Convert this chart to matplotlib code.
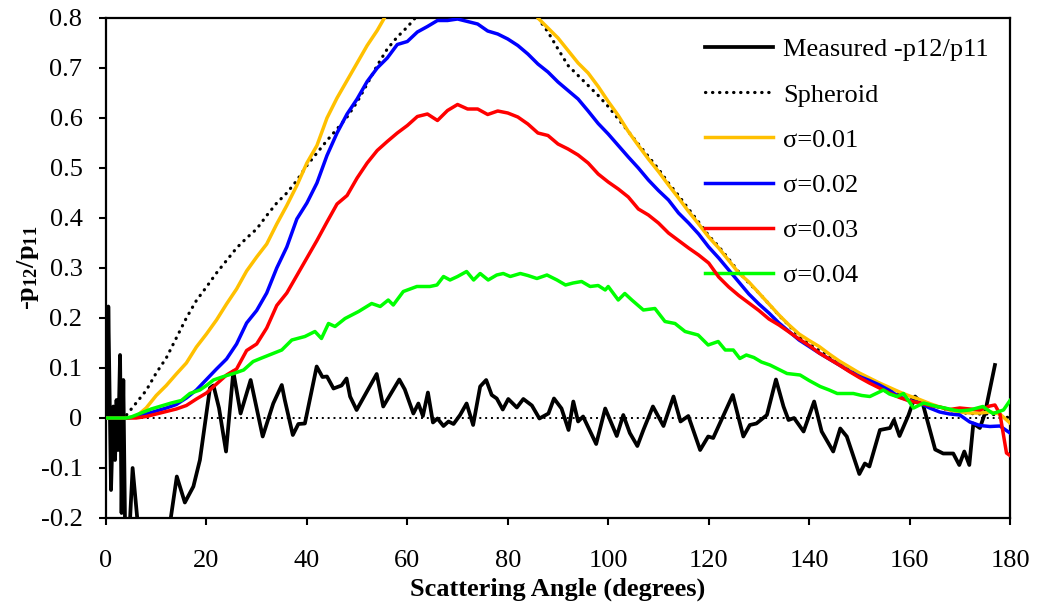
import matplotlib
matplotlib.use("Agg")
import matplotlib.pyplot as plt
from matplotlib.ticker import FixedLocator, FuncFormatter

plt.rcParams['font.family'] = ['Liberation Serif', 'DejaVu Serif']
plt.rcParams['mathtext.default'] = 'regular'
plt.rcParams['axes.unicode_minus'] = False

# ---- measured -p12/p11 ----
meas_ang = [0.3, 0.46, 1.0, 1.46, 1.8, 2.1, 2.4, 2.8, 3.1, 3.45, 3.8, 4.5, 5.3, 6.4, 8.0, 10.0,
            12.0, 12.9, 14.1, 15.7, 17.4, 18.7, 20.7, 21.4, 22.5, 23.9, 25.35, 26.8, 28.8, 31.2,
            33.3, 35.0, 35.6, 37.2, 38.3, 39.6, 41.95, 43.1, 44.0, 45.3, 46.9, 47.9, 48.6, 49.9,
            53.9, 55.2, 58.4, 59.5, 61.2, 62.2, 63.1, 64.1, 65.1, 66.0, 67.2, 68.2, 69.2, 70.5,
            71.8, 73.1, 74.5, 75.7, 76.8, 77.8, 79.0, 80.1, 81.8, 83.1, 84.8, 86.3, 88.1, 89.2,
            90.7, 92.1, 93.05, 94.0, 95.0, 97.6, 99.4, 101.7, 103.0, 104.3, 105.8, 107.0, 108.9,
            111.0, 113.0, 114.4, 115.95, 118.3, 119.9, 120.9, 124.8, 126.9, 128.2, 129.5, 131.6,
            133.4, 134.9, 135.9, 137.0, 138.9, 141.0, 142.5, 144.8, 146.2, 147.5, 150.0, 151.1,
            152.0, 154.1, 156.1, 156.9, 158.0, 159.8, 161.1, 162.7, 165.1, 166.7, 168.7, 169.9,
            170.9, 171.9, 172.7, 174.0, 175.0, 177.0]
meas_val = [0.0, 0.223, -0.144, 0.023, -0.084, 0.036, -0.064, 0.126, -0.19, 0.076, -0.22, -0.26,
            -0.10, -0.22, -0.30, -0.32, -0.26, -0.2, -0.117, -0.169, -0.137, -0.084, 0.06, 0.065,
            0.02, -0.067, 0.093, 0.009, 0.076, -0.037, 0.029, 0.066, 0.036, -0.034, -0.012,
            -0.011, 0.103, 0.082, 0.083, 0.059, 0.065, 0.079, 0.043, 0.016, 0.088, 0.023, 0.077,
            0.057, 0.009, 0.029, 0.004, 0.051, -0.009, -0.001, -0.016, -0.007, -0.012, 0.006,
            0.029, -0.014, 0.063, 0.076, 0.046, 0.039, 0.017, 0.038, 0.021, 0.038, 0.025, -0.001,
            0.009, 0.039, 0.019, -0.024, 0.033, -0.007, 0.003, -0.052, 0.019, -0.036, 0.006,
            -0.030, -0.056, -0.024, 0.023, -0.016, 0.043, -0.007, 0.004, -0.064, -0.037, -0.04,
            0.046, -0.037, -0.014, -0.011, 0.006, 0.077, 0.023, -0.004, 0.0, -0.027, 0.033,
            -0.027, -0.067, -0.021, -0.037, -0.112, -0.091, -0.097, -0.024, -0.02, -0.004,
            -0.036, 0.006, 0.043, 0.026, -0.063, -0.071, -0.071, -0.094, -0.067, -0.094, -0.011,
            -0.02, 0.009, 0.106]

# ---- spheroid model ----
sph_ang = [0, 4, 6, 8, 10, 12, 14, 16, 18, 20, 22, 24, 26, 28, 30, 32, 34, 36, 38, 40, 42, 44,
           46, 48, 50, 52, 54, 56, 58, 60, 62, 64, 68, 72, 76, 80, 84, 86, 88, 90, 92, 94, 96,
           98, 100, 102, 104, 106, 108, 110, 112, 114, 116, 118, 120, 122, 124, 126, 128, 130,
           132, 134, 136, 138, 140, 142, 144, 146, 148, 150, 152, 154, 156, 158, 160, 162, 164,
           166, 168, 170, 172, 174, 176, 178, 180]
sph_val = [0.0, 0.005, 0.03, 0.055, 0.09, 0.12, 0.16, 0.2, 0.235, 0.262, 0.29, 0.315, 0.34,
           0.36, 0.378, 0.405, 0.43, 0.45, 0.475, 0.505, 0.53, 0.555, 0.578, 0.602, 0.632,
           0.668, 0.705, 0.738, 0.762, 0.782, 0.805, 0.83, 0.88, 0.91, 0.91, 0.89, 0.845, 0.80,
           0.772, 0.738, 0.705, 0.685, 0.665, 0.645, 0.623, 0.598, 0.573, 0.548, 0.523, 0.498,
           0.47, 0.445, 0.418, 0.392, 0.365, 0.343, 0.318, 0.292, 0.27, 0.25, 0.228, 0.205,
           0.185, 0.163, 0.148, 0.135, 0.122, 0.11, 0.098, 0.087, 0.077, 0.066, 0.058, 0.05,
           0.042, 0.035, 0.028, 0.021, 0.015, 0.011, 0.009, 0.008, 0.008, 0.005, 0.0]

# ---- sigma = 0.01 ----
s1_ang = [0, 4, 6, 8, 10, 12, 14, 16, 18, 20, 22, 24, 26, 28, 30, 32, 34, 36, 38, 40, 42, 44,
          46, 48, 50, 52, 54, 56, 60, 64, 68, 72, 76, 80, 84, 86, 88, 90, 92, 94, 96, 98, 100,
          102, 104, 106, 108, 110, 112, 114, 116, 118, 120, 122, 124, 126, 128, 130, 132, 134,
          136, 138, 140, 142, 144, 146, 148, 150, 152, 154, 156, 158, 160, 162, 164, 166, 168,
          170, 172, 174, 176, 178, 180]
s1_val = [0.0, 0.0, 0.003, 0.02, 0.045, 0.065, 0.088, 0.11, 0.142, 0.168, 0.196, 0.228, 0.258,
          0.294, 0.322, 0.348, 0.388, 0.425, 0.465, 0.51, 0.545, 0.6, 0.64, 0.675, 0.71, 0.745,
          0.775, 0.81, 0.87, 0.91, 0.935, 0.94, 0.93, 0.9, 0.85, 0.80, 0.78, 0.76, 0.735, 0.71,
          0.69, 0.663, 0.633, 0.605, 0.573, 0.545, 0.518, 0.493, 0.466, 0.44, 0.413, 0.388,
          0.362, 0.34, 0.315, 0.29, 0.272, 0.25, 0.228, 0.206, 0.186, 0.168, 0.155, 0.143,
          0.128, 0.114, 0.102, 0.09, 0.08, 0.07, 0.061, 0.052, 0.044, 0.037, 0.029, 0.022,
          0.016, 0.012, 0.01, 0.01, 0.012, 0.008, -0.01]

# ---- sigma = 0.02 ----
s2_ang = [0, 4, 6, 8, 10, 12, 14, 16, 18, 20, 22, 24, 26, 28, 30, 32, 34, 36, 38, 40, 42, 44,
          46, 48, 50, 52, 54, 56, 58, 60, 62, 64, 66, 68, 70, 72, 74, 76, 78, 80, 82, 84, 86,
          88, 90, 92, 94, 96, 98, 100, 102, 104, 106, 108, 110, 112, 114, 116, 118, 120, 122,
          124, 126, 128, 130, 132, 134, 136, 138, 140, 142, 144, 146, 148, 150, 152, 154, 156,
          158, 160, 162, 164, 166, 168, 170, 172, 174, 176, 178, 180]
s2_val = [0.0, 0.0, 0.002, 0.008, 0.014, 0.02, 0.027, 0.04, 0.056, 0.077, 0.098, 0.118, 0.148,
          0.19, 0.215, 0.25, 0.3, 0.342, 0.398, 0.43, 0.47, 0.525, 0.57, 0.608, 0.638, 0.673,
          0.7, 0.72, 0.747, 0.753, 0.772, 0.783, 0.795, 0.795, 0.798, 0.793, 0.788, 0.774,
          0.768, 0.758, 0.745, 0.728, 0.708, 0.692, 0.672, 0.655, 0.638, 0.614, 0.589, 0.568,
          0.545, 0.522, 0.5, 0.476, 0.455, 0.436, 0.41, 0.39, 0.368, 0.342, 0.32, 0.296, 0.272,
          0.248, 0.228, 0.21, 0.19, 0.173, 0.156, 0.143, 0.13, 0.118, 0.106, 0.094, 0.083,
          0.075, 0.066, 0.055, 0.042, 0.035, 0.03, 0.02, 0.012, 0.008, 0.006, -0.008, -0.015,
          -0.017, -0.016, -0.03]

# ---- sigma = 0.03 ----
s3_ang = [0, 4, 6, 8, 10, 12, 14, 16, 18, 20, 22, 24, 26, 28, 30, 32, 34, 36, 38, 40, 42, 44,
          46, 48, 50, 52, 54, 56, 58, 60, 62, 64, 66, 68, 70, 72, 74, 76, 78, 80, 82, 84, 86,
          88, 90, 92, 94, 96, 98, 100, 102, 104, 106, 108, 110, 112, 114, 116, 118, 120, 122,
          124, 126, 128, 130, 132, 134, 136, 138, 140, 142, 144, 146, 148, 150, 152, 154, 156,
          158, 160, 162, 164, 166, 168, 170, 172, 174, 176, 177, 178, 179.3, 180]
s3_val = [0.0, 0.0, 0.0, 0.003, 0.008, 0.013, 0.018, 0.025, 0.038, 0.05, 0.068, 0.086, 0.098,
          0.135, 0.148, 0.18, 0.225, 0.25, 0.285, 0.32, 0.355, 0.392, 0.428, 0.445, 0.48, 0.51,
          0.535, 0.553, 0.57, 0.585, 0.603, 0.608, 0.595, 0.615, 0.627, 0.618, 0.618, 0.607,
          0.614, 0.61, 0.602, 0.588, 0.57, 0.565, 0.548, 0.538, 0.526, 0.51, 0.488, 0.472,
          0.458, 0.442, 0.418, 0.406, 0.39, 0.37, 0.355, 0.34, 0.326, 0.31, 0.282, 0.262,
          0.245, 0.23, 0.215, 0.198, 0.186, 0.172, 0.158, 0.145, 0.13, 0.118, 0.106, 0.093,
          0.081, 0.07, 0.06, 0.05, 0.041, 0.034, 0.03, 0.025, 0.022, 0.017, 0.02, 0.018, 0.016,
          0.024, 0.026, 0.008, -0.07, -0.075]

# ---- sigma = 0.04 ----
s4_ang = [0, 4, 5, 7, 9, 11, 13, 15, 16.7, 18.7, 20, 21.4, 23.4, 25.4, 27.4, 29.3, 31, 33, 35,
          37, 39.6, 41.6, 42.9, 44.3, 45.6, 47.6, 50.3, 52.9, 54.6, 56.2, 57.2, 59.2, 61.9,
          64.5, 65.9, 67.2, 68.5, 70, 71.8, 73.2, 74.5, 76.1, 77.8, 79.1, 80.5, 82.5, 84, 85.8,
          87.8, 89.8, 91.5, 93, 94.7, 96.4, 98, 99.4, 100, 102, 103.3, 104.7, 107, 109.3,
          111.3, 113.3, 115.3, 117.9, 119.9, 121.9, 123.3, 124.9, 126.2, 127.5, 129, 130.5,
          132.2, 134, 135.6, 138.2, 140, 142.2, 144, 145.6, 148.8, 150.5, 152.1, 154.8, 156,
          157.5, 158.8, 160.8, 162.8, 165.4, 167, 168.7, 170, 172, 174.6, 176.6, 178.7, 180]
s4_val = [0.0, 0.0, 0.002, 0.01, 0.018, 0.024, 0.03, 0.035, 0.049, 0.056, 0.065, 0.076, 0.083,
          0.089, 0.096, 0.113, 0.12, 0.128, 0.136, 0.156, 0.163, 0.173, 0.159, 0.189, 0.183,
          0.199, 0.213, 0.229, 0.223, 0.236, 0.226, 0.253, 0.263, 0.263, 0.266, 0.283, 0.276,
          0.283, 0.293, 0.276, 0.289, 0.276, 0.286, 0.289, 0.283, 0.289, 0.285, 0.279, 0.286,
          0.276, 0.266, 0.27, 0.273, 0.263, 0.265, 0.256, 0.263, 0.236, 0.249, 0.236, 0.216,
          0.219, 0.193, 0.189, 0.173, 0.166, 0.146, 0.153, 0.136, 0.136, 0.119, 0.126, 0.121,
          0.112, 0.106, 0.097, 0.089, 0.086, 0.075, 0.063, 0.056, 0.049, 0.049, 0.045, 0.043,
          0.056, 0.048, 0.043, 0.049, 0.02, 0.03, 0.023, 0.02, 0.016, 0.014, 0.016, 0.023,
          0.009, 0.016, 0.035]

labels = ['Measured -p12/p11', 'Spheroid', 'σ=0.01', 'σ=0.02', 'σ=0.03', 'σ=0.04']
x_ticks = [0, 20, 40, 60, 80, 100, 120, 140, 160, 180]
y_ticks = [-0.2, -0.1, 0, 0.1, 0.2, 0.3, 0.4, 0.5, 0.6, 0.7, 0.8]

W, H = 1037, 606
fig = plt.figure(figsize=(W / 100, H / 100), dpi=100)
ax = fig.add_axes([106 / W, 1 - 518 / H, 904 / W, 500 / H])

# dotted reference line at zero
ax.plot([0, 180], [0, 0], color='black', lw=1.4, linestyle=(0, (1, 2)), zorder=1)

ax.plot(meas_ang, meas_val, color='black', lw=2.7, solid_joinstyle='round', label=labels[0], zorder=2)
ax.plot(sph_ang, sph_val, color='black', lw=2.3, linestyle=(0, (0.1, 2.1)),
        dash_capstyle='round', label=labels[1], zorder=3)
ax.plot(s1_ang, s1_val, color='#FFC000', lw=2.5, label=labels[2], zorder=4)
ax.plot(s2_ang, s2_val, color='#0000FF', lw=2.5, label=labels[3], zorder=5)
ax.plot(s3_ang, s3_val, color='#FF0000', lw=2.5, label=labels[4], zorder=6)
ax.plot(s4_ang, s4_val, color='#00FF00', lw=2.5, label=labels[5], zorder=7)

ax.set_xlim(0, 180)
ax.set_ylim(-0.2, 0.8)
ax.xaxis.set_major_locator(FixedLocator(x_ticks))
ax.yaxis.set_major_locator(FixedLocator(y_ticks))
ax.yaxis.set_major_formatter(FuncFormatter(lambda v, p: '0' if abs(v) < 1e-9 else f'{v:.1f}'))
ax.tick_params(axis='both', direction='out', length=5, width=1.5, labelsize=19, colors='black')
ax.tick_params(axis='x', pad=18)
ax.tick_params(axis='y', pad=12)
for s in ax.spines.values():
    s.set_linewidth(1.6)

ax.set_xlabel('Scattering Angle (degrees)', fontsize=19, fontweight='bold')
ax.xaxis.set_label_coords(0.5, -0.12)
ax.set_ylabel('-p$_{12}$/p$_{11}$', fontsize=19, fontweight='bold')
ax.yaxis.set_label_coords(-0.072, 0.5)

leg = ax.legend(loc='upper left', bbox_to_anchor=(705 / W, 1 - 38 / H),
                bbox_transform=fig.transFigure, frameon=False, fontsize=19,
                borderpad=0, borderaxespad=0, handlelength=2.58, handletextpad=0.38,
                labelspacing=0.82)

fig.savefig('out.png', dpi=100)
